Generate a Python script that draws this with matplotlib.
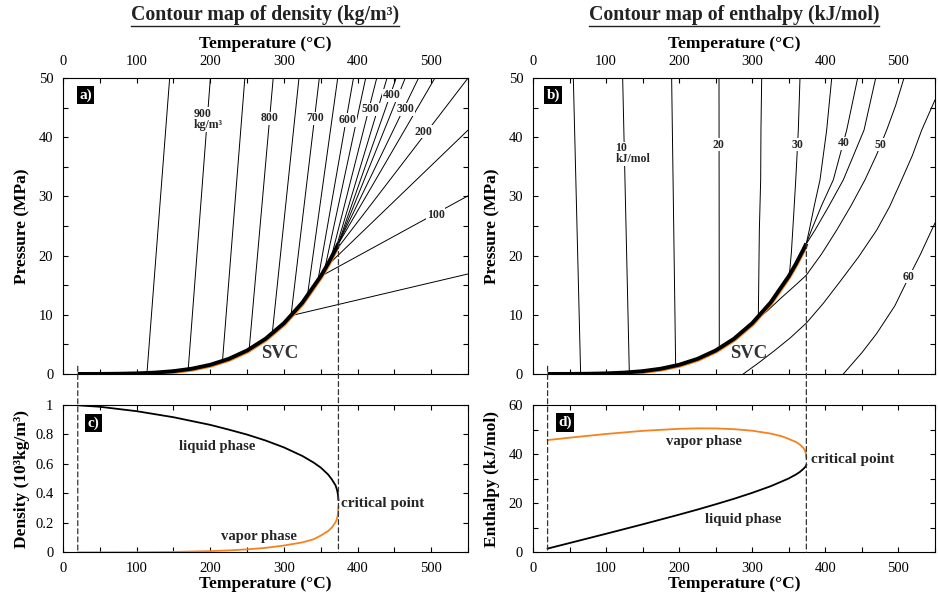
import numpy as np
import matplotlib
matplotlib.use('Agg')
import matplotlib.pyplot as plt
import matplotlib.transforms as mtransforms
from matplotlib.ticker import MultipleLocator, FuncFormatter
from matplotlib.patches import ConnectionPatch
from matplotlib.lines import Line2D

plt.rcParams['font.family'] = ['Liberation Serif', 'DejaVu Serif']
plt.rcParams['font.size'] = 10
plt.rcParams['axes.linewidth'] = 0.8
plt.rcParams['xtick.direction'] = 'in'
plt.rcParams['ytick.direction'] = 'in'

ORANGE = '#f5821f'
TXT = '#262626'

# saturation (vapour-liquid) curve of water
sat_T = [20, 50, 75, 100, 125, 150, 175, 200, 225, 250, 275, 300, 325, 350, 360, 370, 374]
sat_P = [0.0023, 0.0124, 0.0386, 0.1014, 0.2321, 0.4762, 0.8925, 1.555, 2.55, 3.976,
         5.95, 8.588, 12.06, 16.53, 18.67, 21.04, 22.06]

# isochores (kg/m3): start on the SVC, end on the frame
rho_levels = [950, 900, 850, 800, 750, 700, 650, 600, 550, 500, 450, 400, 350, 300, 250, 200, 150, 100, 50]
iso_T0 = [114, 170, 216.5, 252.8, 284.1, 309.5, 331.7, 346, 355.3, 363.6, 370, 372.5, 373.7, 373.8, 372.6, 367.5, 358, 350, 310]
iso_P0 = [0.16, 0.79, 2.14, 4.2, 6.85, 9.8, 13.1, 15.7, 17.7, 19.4, 21.0, 21.6, 21.9, 22.0, 21.7, 20.4, 18.2, 16.5, 9.87]
iso_T1 = [144.8, 200.1, 246.9, 285.4, 320.4, 348, 373, 394.4, 411, 426, 440, 452.4, 464.7, 482.8, 505, 550, 550, 550, 550]
iso_P1 = [50, 50, 50, 50, 50, 50, 50, 50, 50, 50, 50, 50, 50, 50, 50, 50, 41.2, 30.1, 16.9]

rho_lab_text = ['900\nkg/m\u00b3', '800', '700', '600', '500', '400', '300', '200', '100']
rho_lab_T = [178, 281, 343, 386, 417, 446, 464.5, 490, 506]
rho_lab_P = [43.0, 43.2, 43.2, 42.9, 44.7, 47.1, 44.7, 40.9, 26.9]

# isenthalps (kJ/mol)
h_levels = [5, 10, 15, 20, 25, 30, 35, 40, 45, 50, 55, 60]
isoh_T = [
    [65.2, 55.2],
    [131.8, 122.7],
    [195.2, 189.7],
    [254.9, 254.5],
    [308.3, 309.7, 311.5, 311.9, 312.9],
    [350.7, 353.5, 356.5, 359.5, 363, 365.3],
    [374, 378, 385, 392.7, 401.8, 408.7],
    [374, 381, 395, 410.9, 429.2, 444.2],
    [373, 385.8, 405, 424.6, 452.9, 468.9],
    [300, 320, 340, 360, 374, 395, 415.5, 435, 454.2, 470, 483.9, 496, 507.6],
    [287.7, 310, 330, 352, 374, 397, 420, 445, 470.2, 488, 504.4, 519, 531.8, 550],
    [424.6, 450, 470, 495, 514.4, 530, 545.4, 550],
]
isoh_P = [
    [0.03, 50],
    [0.29, 50],
    [1.40, 50],
    [4.3, 50],
    [9.6, 24.3, 32.8, 41.2, 50],
    [16.7, 20.5, 26.5, 32.8, 41.2, 50],
    [22.06, 24.3, 28.5, 32.8, 41.2, 50],
    [22.06, 24.3, 28.5, 32.8, 41.2, 50],
    [21.8, 24.3, 28.4, 32.8, 41.2, 50],
    [8.59, 10.6, 12.9, 15.1, 16.7, 20.3, 24.3, 28.4, 32.8, 37.0, 41.2, 45.3, 50],
    [0, 2.0, 3.9, 6.1, 8.6, 11.9, 15.6, 19.7, 24.3, 28.3, 32.8, 36.9, 41.2, 46.3],
    [0, 3.6, 6.8, 11.5, 16.4, 20.2, 24.3, 25.5],
]
h_lab_text = ['10\nkJ/mol', '20', '30', '40', '50', '60']
h_lab_T = [113, 254, 362, 424.6, 474.8, 514.4]
h_lab_P = [37.2, 38.7, 38.7, 39.0, 38.7, 16.4]

# coexisting phases
ph_T = [20, 50, 100, 150, 200, 225, 250, 275, 300, 325, 340, 350, 360, 365, 370, 372, 373.2, 374]
rho_liq = [0.998, 0.988, 0.958, 0.917, 0.865, 0.833, 0.799, 0.759, 0.712, 0.654, 0.61, 0.575, 0.528, 0.495, 0.455, 0.425, 0.395, 0.355]
rho_vap = [0.00002, 0.00008, 0.0006, 0.0026, 0.0079, 0.0128, 0.0199, 0.0299, 0.0462, 0.0672, 0.0880, 0.1135, 0.1445, 0.168, 0.2034, 0.228, 0.255, 0.31]
h_liq = [1.51, 3.77, 7.55, 11.39, 15.35, 17.4, 19.56, 21.8, 24.23, 26.9, 28.8, 30.1, 31.73, 32.7, 34.0, 34.6, 35.1, 35.6]
h_vap = [45.71, 46.68, 48.20, 49.47, 50.30, 50.48, 50.46, 50.15, 49.53, 48.37, 47.3, 46.18, 44.9, 43.9, 42.5, 41.5, 40.4, 38.6]

T_crit, P_crit = 374, 22.06
T_low, P_low = 20, 1.3

fig = plt.figure(figsize=(9.38, 6.0), dpi=100)
ax_a = fig.add_axes([0.0672, 0.3767, 0.4318, 0.4933])
ax_b = fig.add_axes([0.5682, 0.3767, 0.4286, 0.4933])
ax_c = fig.add_axes([0.0672, 0.0795, 0.4318, 0.2455])
ax_d = fig.add_axes([0.5682, 0.0795, 0.4286, 0.2455])

lab_font = dict(fontsize=12.5, fontweight='bold')


def style_top(ax):
    ax.set_xlim(0, 550)
    ax.set_ylim(0, 50)
    ax.xaxis.set_major_locator(MultipleLocator(100))
    ax.xaxis.set_minor_locator(MultipleLocator(50))
    ax.yaxis.set_major_locator(MultipleLocator(10))
    ax.yaxis.set_minor_locator(MultipleLocator(5))
    ax.tick_params(which='both', top=True, right=True, labeltop=True, labelbottom=False,
                   length=3.5, width=0.8, pad=7, labelsize=10.5)
    ax.xaxis.set_label_position('top')
    ax.set_xlabel('Temperature (\u00b0C)', labelpad=5, **lab_font)
    ax.set_ylabel('Pressure (MPa)', labelpad=6, **lab_font)


def style_bottom(ax):
    ax.set_xlim(0, 550)
    ax.xaxis.set_major_locator(MultipleLocator(100))
    ax.xaxis.set_minor_locator(MultipleLocator(50))
    ax.tick_params(which='both', top=True, right=True, length=3.5, width=0.8, pad=7, labelsize=10.5)
    ax.set_xlabel('Temperature (\u00b0C)', labelpad=1, **lab_font)


def draw_svc(ax):
    off = mtransforms.offset_copy(ax.transData, fig=fig, x=0.7, y=-1.1, units='points')
    ax.plot(sat_T, sat_P, color=ORANGE, lw=1.8, transform=off, zorder=5, solid_capstyle='butt')
    ax.plot(sat_T, sat_P, color='black', lw=2.8, zorder=6, solid_capstyle='butt')
    ax.text(294.5, 3.5, 'SVC', fontsize=13.5, fontweight='bold', color='#333333',
            ha='center', va='center', zorder=7)


def inline_label(ax, x, y, s, ha='center'):
    ax.text(x, y, s, fontsize=8.5, fontweight='bold', color=TXT, ha=ha, va='center',
            linespacing=0.9, zorder=4,
            bbox=dict(facecolor='white', edgecolor='none', pad=0.4))


def panel_tag(ax, x, y, s):
    ax.text(x, y, s, transform=ax.transAxes, fontsize=11, fontweight='bold', color='white',
            ha='left', va='center', zorder=8,
            bbox=dict(facecolor='black', edgecolor='none', pad=1.8))


# (a) density contours
for t0, p0, t1, p1 in zip(iso_T0, iso_P0, iso_T1, iso_P1):
    ax_a.plot([t0, t1], [p0, p1], color='black', lw=0.7, zorder=3)
for s, x, y in zip(rho_lab_text, rho_lab_T, rho_lab_P):
    inline_label(ax_a, x, y, s, ha='left' if '\n' in s else 'center')
draw_svc(ax_a)
style_top(ax_a)
panel_tag(ax_a, 0.040, 0.943, 'a)')

# (b) enthalpy contours
for tt, pp in zip(isoh_T, isoh_P):
    ax_b.plot(tt, pp, color='black', lw=0.7, zorder=3)
for s, x, y in zip(h_lab_text, h_lab_T, h_lab_P):
    inline_label(ax_b, x, y, s, ha='left' if '\n' in s else 'center')
draw_svc(ax_b)
style_top(ax_b)
panel_tag(ax_b, 0.034, 0.943, 'b)')

# (c) density of coexisting phases
ax_c.plot(ph_T, rho_liq, color='black', lw=1.3, zorder=5)
ax_c.plot(ph_T, rho_vap, color=ORANGE, lw=1.3, zorder=5)
ax_c.set_ylim(0, 1)
style_bottom(ax_c)
ax_c.yaxis.set_major_locator(MultipleLocator(0.2))
ax_c.yaxis.set_major_formatter(FuncFormatter(lambda v, p: '%g' % round(v, 1)))
ax_c.set_ylabel('Density (10\u00b3kg/m\u00b3)', labelpad=4, **lab_font)
ax_c.text(209, 0.717, 'liquid phase', fontsize=10.5, fontweight='bold', color=TXT, ha='center', va='center')
ax_c.text(266, 0.106, 'vapor phase', fontsize=10.5, fontweight='bold', color=TXT, ha='center', va='center')
ax_c.text(378, 0.333, 'critical point', fontsize=11, fontweight='bold', color=TXT, ha='left', va='center')
panel_tag(ax_c, 0.060, 0.876, 'c)')

# (d) enthalpy of coexisting phases
ax_d.plot(ph_T, h_liq, color='black', lw=1.3, zorder=5)
ax_d.plot(ph_T, h_vap, color=ORANGE, lw=1.3, zorder=5)
ax_d.set_ylim(0, 60)
style_bottom(ax_d)
ax_d.yaxis.set_major_locator(MultipleLocator(20))
ax_d.yaxis.set_minor_locator(MultipleLocator(10))
ax_d.set_ylabel('Enthalpy (kJ/mol)', labelpad=6, **lab_font)
ax_d.text(234, 45.0, 'vapor phase', fontsize=10.5, fontweight='bold', color=TXT, ha='center', va='center')
ax_d.text(288, 13.2, 'liquid phase', fontsize=10.5, fontweight='bold', color=TXT, ha='center', va='center')
ax_d.text(380, 37.9, 'critical point', fontsize=11, fontweight='bold', color=TXT, ha='left', va='center')
panel_tag(ax_d, 0.063, 0.88, 'd)')

# dashed guides from the pressure panels down through the phase panels
for top, bot in [(ax_a, ax_c), (ax_b, ax_d)]:
    for t, p in [(T_crit, P_crit), (T_low, P_low)]:
        cp = ConnectionPatch(xyA=(t, p), coordsA=top.transData, xyB=(t, 0), coordsB=bot.transData,
                             color='#333333', lw=0.9, linestyle=(0, (4, 2.5)), shrinkA=0, shrinkB=0,
                             zorder=9)
        fig.add_artist(cp)

# underlined titles
titles = []
titles.append(fig.text(0.2825, 0.975, 'Contour map of density (kg/m\u00b3)', ha='center', va='center',
                       fontsize=14.3, fontweight='bold', color='#222222'))
titles.append(fig.text(0.7825, 0.975, 'Contour map of enthalpy (kJ/mol)', ha='center', va='center',
                       fontsize=14.3, fontweight='bold', color='#222222'))
fig.canvas.draw()
inv = fig.transFigure.inverted()
for t in titles:
    bb = t.get_window_extent()
    (x0, y0), (x1, y1) = inv.transform([(bb.x0, bb.y0 - 1), (bb.x1, bb.y0 - 1)])
    fig.add_artist(Line2D([x0, x1], [y0, y1], transform=fig.transFigure, color='#222222', lw=1.0))

fig.savefig('out.png', dpi=100)
